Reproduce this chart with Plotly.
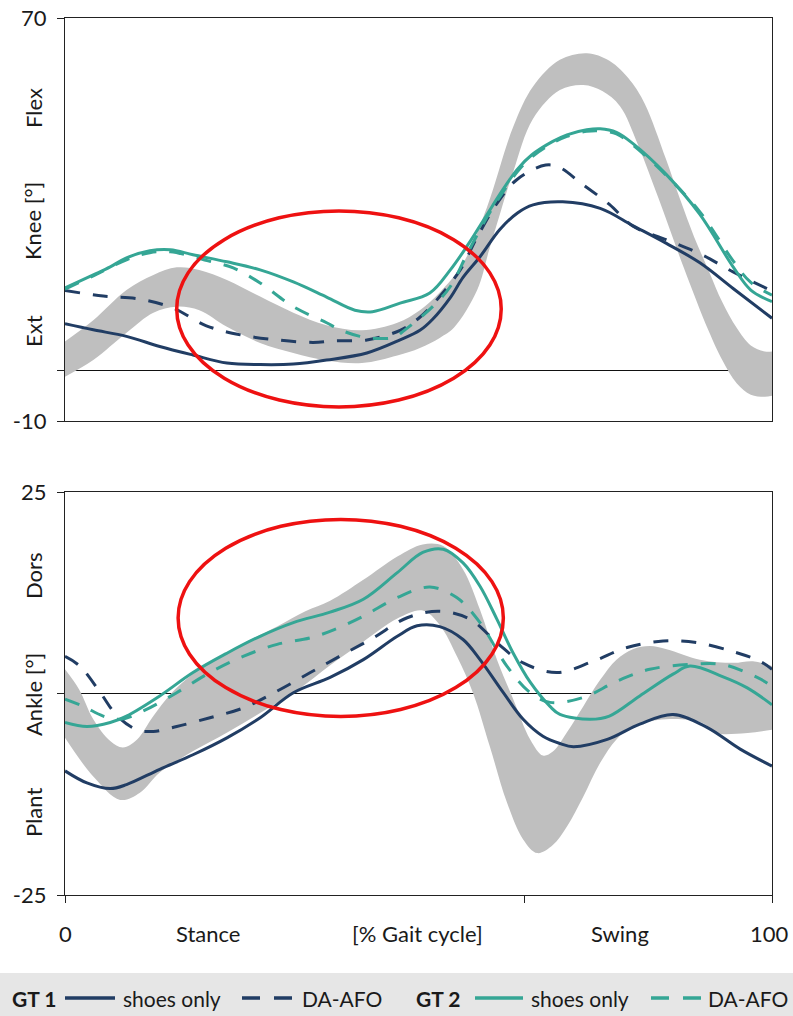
import plotly.graph_objects as go

# ---------------- data ----------------
# Knee (top panel)
knee_band_up_x = [0, 4, 8.7, 12.5, 15.8, 19, 22.9, 27.6, 32.3, 37, 42, 47, 50.2, 53, 56.3, 59.7, 63.4, 66.2, 70, 73.8, 77, 80, 82, 85, 87, 89, 91, 93, 95, 97, 99, 100]
knee_band_up_y = [5.8, 10, 16, 19, 20.5, 20, 18, 14.7, 11.5, 9, 8, 9.5, 12, 15.5, 21.3, 32.5, 48.4, 56.4, 61.7, 63, 61.5, 57.5, 53, 42, 34, 26.5, 20, 13.5, 8.5, 5, 3.8, 3.8]
knee_band_lo_x = [0, 4, 8.7, 12.5, 15.8, 19, 22.9, 27.6, 32.3, 37, 42, 47, 50.2, 53, 55, 58.3, 60, 61.5, 63.4, 66.2, 70, 73.3, 76, 78.5, 81, 84, 87.5, 91, 93, 95, 97, 99, 100]
knee_band_lo_y = [-1.2, 2.1, 7.5, 11.5, 12.7, 12, 8.7, 5.5, 3.5, 2, 1.5, 3, 4.5, 6.5, 8.5, 16, 24, 31, 39.5, 50, 55.7, 56.7, 55.5, 52.5, 45, 34, 20.5, 8, 2, -2.5, -4.8, -5.2, -5]

knee_gt1_shoes_x = [0, 4, 8.7, 13.4, 18.1, 22.9, 27.6, 32.3, 37, 42.7, 47.4, 50.2, 52, 54.5, 56.3, 58.7, 61.5, 64, 66.2, 70.4, 75.7, 80.3, 85, 89.8, 94.5, 100]
knee_gt1_shoes_y = [9.3, 8.1, 6.8, 4.8, 3.1, 1.5, 1.2, 1.3, 2.1, 3.5, 6.1, 8, 10.2, 14.5, 18.5, 22.6, 28, 31.3, 32.9, 33.5, 32.2, 28.8, 25.3, 21.4, 16.3, 10.4]

knee_gt1_afo_x = [0, 5.4, 10.6, 15.3, 20, 24.8, 30, 35.1, 38, 42.7, 47.4, 50.2, 53, 55.9, 58.3, 61.1, 63.9, 68, 70, 73, 77, 80.3, 85, 89.8, 94.5, 100]
knee_gt1_afo_y = [15.9, 14.8, 14.2, 12.4, 8.9, 7.1, 6.1, 5.6, 5.9, 6.1, 8, 10.6, 14.7, 20, 26.5, 33.2, 37.9, 40.8, 40.3, 37.2, 33, 28.7, 26, 23.2, 19.6, 15.8]

knee_gt2_shoes_x = [0, 4, 6.4, 8.7, 12, 14.9, 18.1, 22.9, 27.6, 32.3, 37, 41, 43.5, 47.4, 51.6, 54.5, 57, 59.7, 61.5, 64, 66, 69, 71, 73.8, 75.7, 78, 80.3, 85, 89.8, 94.5, 97, 100]
knee_gt2_shoes_y = [16.4, 19, 20.6, 22.4, 23.8, 24, 23, 21.6, 20, 17.6, 14.6, 12, 11.7, 13.4, 15.4, 20, 25, 31, 35, 40, 42.8, 45.5, 46.8, 47.8, 48, 47.3, 45.1, 39, 31, 20.6, 16, 13.7]

knee_gt2_afo_x = [0, 4, 8.7, 12, 14.9, 18.1, 21, 23.8, 27.6, 32.3, 37, 38.9, 41.7, 44, 46.5, 48, 52, 54.5, 57, 59.7, 61.5, 64, 66, 69, 71, 73.8, 75.7, 78, 80.3, 85, 89.8, 94.5, 97, 100]
knee_gt2_afo_y = [16.2, 18.8, 22, 23.4, 23.6, 22.6, 21.5, 20.4, 17.4, 12.7, 9.5, 8.1, 6.8, 6.4, 6.6, 8, 12.7, 16.7, 23.5, 30.5, 34.5, 39.5, 42.4, 45.2, 46.5, 47.5, 47.6, 47, 44.8, 38.8, 31.5, 21.8, 17.5, 15]

# Ankle (bottom panel)
ankle_band_up_x = [0, 2, 4, 6.4, 8.2, 10.2, 12.5, 15, 18, 20, 25, 30, 34, 37.5, 42.2, 47, 50.6, 53.5, 56.3, 58.7, 61.1, 63.4, 65.8, 67.6, 69, 71, 73.3, 75.7, 78, 80.3, 82.7, 85.1, 89.8, 94.5, 97.3, 100]
ankle_band_up_y = [3, 0.5, -3.2, -5.9, -6.7, -5.7, -2.8, 0, 2.4, 3.6, 6.1, 8.3, 10.2, 11.5, 14.1, 17, 18.5, 18.3, 15.4, 10.4, 4.2, -0.7, -5.7, -7.7, -7.2, -4.8, -1.6, 1.7, 4.2, 5.5, 5.9, 5.5, 4.2, 3.8, 4, 3.4]
ankle_band_lo_x = [0, 4, 7.8, 10.6, 13.4, 18, 23, 28, 33, 37.5, 42, 47, 50.6, 53, 55.5, 57.7, 60.1, 62.5, 64.8, 66.8, 69, 71, 73.3, 75.7, 78, 80.3, 85, 90, 92.2, 95, 100]
ankle_band_lo_y = [-5.5, -10.3, -13.2, -12.3, -9.8, -7.2, -4.8, -2.2, 0.5, 3.5, 6.3, 9.3, 10.3, 8.5, 4.5, 0.1, -6.6, -13.5, -18.1, -19.8, -18.8, -16.5, -12.8, -8.6, -5.7, -4.1, -3.2, -3.6, -4.9, -5, -4.5]

ankle_gt1_shoes_x = [0, 3.1, 6.4, 8.7, 13.4, 18.1, 22.9, 27.6, 32.3, 37.5, 42.2, 47, 49.8, 53, 56.3, 58.7, 62, 64.8, 67.6, 70, 71.9, 76.7, 81.3, 86, 90.8, 95.5, 100]
ankle_gt1_shoes_y = [-9.6, -11.1, -11.8, -11.3, -9.4, -7.6, -5.5, -3, 0.1, 2, 4.2, 7.1, 8.4, 8.3, 6.7, 4.2, 0.1, -3.2, -5.3, -6.2, -6.6, -5.7, -3.8, -2.6, -4.2, -6.9, -9]

ankle_gt1_afo_x = [0, 2.1, 5, 7.4, 10.2, 12.5, 15.8, 20.5, 25.2, 30, 34.7, 38.7, 43.6, 48.4, 53, 57.3, 61.1, 64.8, 69.6, 74.7, 79.5, 84.6, 89.4, 94.5, 98.3, 100]
ankle_gt1_afo_y = [4.6, 3.4, 0.1, -2.8, -4.5, -4.7, -4.1, -3, -1.8, 0.3, 2.6, 4.55, 6.9, 9.4, 10.2, 9.2, 6.3, 3.8, 2.6, 4, 5.7, 6.5, 6.3, 5.2, 4, 3]

ankle_gt2_shoes_x = [0, 3.1, 6.4, 8.7, 13.4, 18.1, 22.9, 27.6, 32.3, 37.5, 42.2, 47, 50.6, 53.5, 56.3, 58.7, 61.1, 63.4, 65.8, 68.6, 70, 74.3, 77, 81.3, 86, 88.4, 93, 96.5, 100]
ankle_gt2_shoes_y = [-3.6, -4.1, -3.6, -2.8, -0.3, 2.6, 5, 7.1, 8.8, 10.1, 11.7, 15, 17.5, 17.9, 16.2, 13.3, 9.2, 5, 1.4, -1.6, -2.6, -3.2, -2.8, -0.3, 2.4, 3.4, 2.1, 0.7, -1.4]

ankle_gt2_afo_x = [0, 2.6, 5.4, 7.8, 11, 15.8, 20.5, 25.2, 30, 34.7, 38, 42.2, 47, 51.6, 55.4, 58.7, 62.5, 65.8, 68.6, 73.3, 78, 82.7, 88.4, 93, 97.9, 100]
ankle_gt2_afo_y = [-0.7, -1.6, -2.8, -3.2, -2.2, 0.1, 2.6, 4.6, 6.1, 6.9, 7.9, 9.6, 11.9, 13.2, 11.9, 8.8, 3.4, 0.1, -1.1, -0.5, 1.5, 3, 3.6, 3.6, 2, 0.9]

x_labels = ["0", "Stance", "[% Gait cycle]", "Swing", "100"]
x_label_pos = [0, 20.2, 49.8, 78.5, 99.7]
knee_ticks = [-10, 0, 70]
ankle_ticks = [-25, 0, 25]
toe_off = 65

# ---------------- styling ----------------
W, H = 793, 1016
L, R, T, B = 65, 21, 18, 121
PW, PH = W - L - R, H - T - B
def pxx(px):
    return (px - L) / PW
def pxy(py):
    return (H - B - py) / PH

NAVY = "#213d64"
TEAL = "#35a695"
GRAY = "#bfbfbf"
FONT = "Lato"
TXT = "#1a1a1a"
DASH = "15px,13px"

fig = go.Figure()

def band(xl, yl, xu, yu, xa, ya):
    fig.add_trace(go.Scatter(x=xl, y=yl, mode="lines", line=dict(width=0, shape="spline", color=GRAY),
                             xaxis=xa, yaxis=ya, hoverinfo="skip", showlegend=False))
    fig.add_trace(go.Scatter(x=xu, y=yu, mode="lines", line=dict(width=0, shape="spline", color=GRAY),
                             fill="tonexty", fillcolor=GRAY, xaxis=xa, yaxis=ya, hoverinfo="skip", showlegend=False))

def line(x, y, color, dash, xa, ya):
    fig.add_trace(go.Scatter(x=x, y=y, mode="lines",
                             line=dict(color=color, width=3, dash=dash, shape="spline"),
                             xaxis=xa, yaxis=ya, showlegend=False))

band(knee_band_lo_x, knee_band_lo_y, knee_band_up_x, knee_band_up_y, "x", "y")
line(knee_gt1_shoes_x, knee_gt1_shoes_y, NAVY, "solid", "x", "y")
line(knee_gt1_afo_x, knee_gt1_afo_y, NAVY, DASH, "x", "y")
line(knee_gt2_afo_x, knee_gt2_afo_y, TEAL, DASH, "x", "y")
line(knee_gt2_shoes_x, knee_gt2_shoes_y, TEAL, "solid", "x", "y")

band(ankle_band_lo_x, ankle_band_lo_y, ankle_band_up_x, ankle_band_up_y, "x2", "y2")
line(ankle_gt1_shoes_x, ankle_gt1_shoes_y, NAVY, "solid", "x2", "y2")
line(ankle_gt1_afo_x, ankle_gt1_afo_y, NAVY, DASH, "x2", "y2")
line(ankle_gt2_afo_x, ankle_gt2_afo_y, TEAL, DASH, "x2", "y2")
line(ankle_gt2_shoes_x, ankle_gt2_shoes_y, TEAL, "solid", "x2", "y2")

axis_common = dict(showline=True, mirror=True, linecolor="#222", linewidth=1.3, showgrid=False, automargin=False)
yaxis_common = dict(axis_common, ticks="outside", ticklen=7, tickcolor="#222", tickwidth=1.3,
                    zeroline=True, zerolinecolor="#111", zerolinewidth=1.2, layer="above traces",
                    tickfont=dict(family=FONT, size=22, color=TXT), ticklabelstandoff=6)

fig.update_layout(
    template="none",
    width=W, height=H,
    margin=dict(l=L, r=R, t=T, b=B, pad=0, autoexpand=False),
    paper_bgcolor="white", plot_bgcolor="white",
    showlegend=False,
    font=dict(family=FONT, size=22, color=TXT),
    xaxis=dict(axis_common, domain=[0, 1], range=[0, 100], anchor="y", showticklabels=False,
               ticks="", zeroline=False, layer="above traces"),
    yaxis=dict(yaxis_common, domain=[pxy(421), pxy(18)], range=[-10, 70], anchor="x",
               tickvals=knee_ticks, ticktext=["-10", "", "70"]),
    xaxis2=dict(axis_common, domain=[0, 1], range=[0, 100], anchor="y2", showticklabels=False,
                tickvals=[0, toe_off, 100], ticks="outside", ticklen=7, tickcolor="#222", tickwidth=1.3,
                zeroline=False, layer="above traces"),
    yaxis2=dict(yaxis_common, domain=[pxy(895), pxy(492)], range=[-25, 25], anchor="x2",
                tickvals=ankle_ticks, ticktext=["-25", "", "25"]),
)

ann = []
for t, xv in zip(x_labels, x_label_pos):
    ann.append(dict(x=xv, xref="x2", y=pxy(933), yref="paper", text=t, showarrow=False,
                    xanchor="center", yanchor="middle", font=dict(family=FONT, size=22, color=TXT)))
for t, py in [("Flex", 108), ("Knee [°]", 221), ("Ext", 331), ("Dors", 576), ("Ankle [°]", 695), ("Plant", 813)]:
    ann.append(dict(x=pxx(33), xref="paper", y=pxy(py), yref="paper", text=t, showarrow=False,
                    textangle=-90, xanchor="center", yanchor="middle", font=dict(family=FONT, size=22, color=TXT)))

# legend (custom row)
LEG_Y = pxy(998)
leg_text = [("<b>GT 1</b>", 10), ("shoes only", 121), ("DA-AFO", 300), ("<b>GT 2</b>", 414), ("shoes only", 529), ("DA-AFO", 706)]
for t, px in leg_text:
    ann.append(dict(x=pxx(px), xref="paper", y=LEG_Y, yref="paper", text=t, showarrow=False,
                    xanchor="left", yanchor="middle", font=dict(family=FONT, size=21, color=TXT)))

shapes = [
    dict(type="rect", xref="paper", yref="paper", x0=pxx(0), x1=pxx(W), y0=pxy(1016), y1=pxy(973),
         fillcolor="#e6e6e6", line=dict(width=0), layer="below"),
    dict(type="circle", xref="x", yref="y", x0=15.8, x1=61.7, y0=-7.2, y1=31.7,
         line=dict(color="#ee1111", width=3.5)),
    dict(type="circle", xref="x2", yref="y2", x0=16, x1=62, y0=-2.85, y1=21.6,
         line=dict(color="#ee1111", width=3.5)),
]
for x0, x1, c, d in [(65, 115, NAVY, "solid"), (242, 295, NAVY, "18px,14px"),
                     (475, 523, TEAL, "solid"), (651, 702, TEAL, "18px,14px")]:
    shapes.append(dict(type="line", xref="paper", yref="paper", x0=pxx(x0), x1=pxx(x1), y0=LEG_Y, y1=LEG_Y,
                       line=dict(color=c, width=3.5, dash=d)))

fig.update_layout(annotations=ann, shapes=shapes)
fig.write_html("out.html", config={"displayModeBar": False},
               post_script="document.body.style.margin='0';document.body.style.padding='0';document.body.style.overflow='hidden';")
